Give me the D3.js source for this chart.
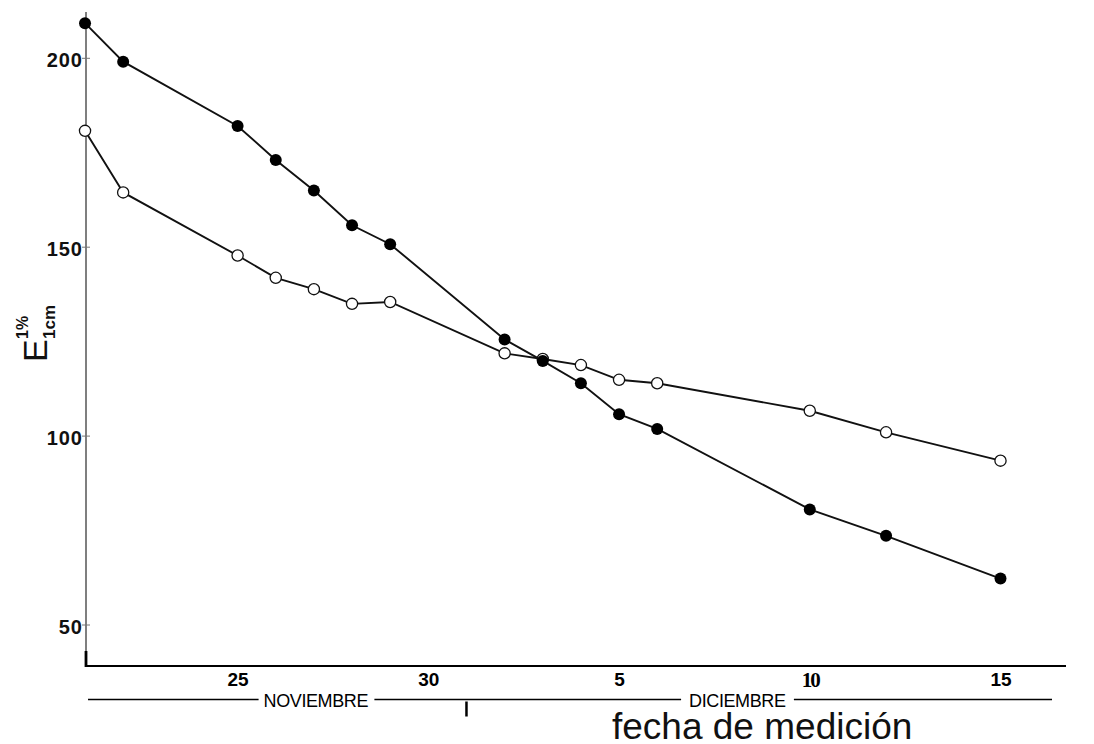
<!DOCTYPE html>
<html>
<head>
<meta charset="utf-8">
<script src="https://cdn.jsdelivr.net/npm/d3@7"></script>
<style>
  body { margin: 0; background: #fff; }
  svg { display: block; }
</style>
</head>
<body>
<svg id="chart" width="1094" height="744"></svg>
<script>
// days counted from 21 November
const filledDays = [0, 1, 4, 5, 6, 7, 8, 11, 12, 13, 14, 15, 19, 21, 24];
const filledValues = [209.3, 199.1, 182.1, 173.1, 165.0, 155.8, 150.8, 125.6, 119.9, 114.0, 105.8, 101.9, 80.6, 73.6, 62.3];
const openDays = [0, 1, 4, 5, 6, 7, 8, 11, 12, 13, 14, 15, 19, 21, 24];
const openValues = [180.8, 164.5, 147.8, 141.9, 138.9, 135.0, 135.5, 121.9, 120.4, 118.8, 114.9, 114.0, 106.7, 101.0, 93.5];
const yTicks = [50, 100, 150, 200];
const xTickDays = [4, 9, 14, 19, 24];
const xTickLabels = ["25", "30", "5", "10", "15"];
const monthNames = ["NOVIEMBRE", "DICIEMBRE"];
const monthCenterDays = [6.05, 17.1];
const monthBoundaryDay = 10;

const svg = d3.select("#chart");
const sans = "'Liberation Sans', Arial, sans-serif";

const x = d3.scaleLinear().domain([4, 24]).range([237.6, 1000.5]);
const y = d3.scaleLinear().domain([50, 200]).range([625, 58.3]);

const axisX = 86, axisY = 666;

// y axis line
svg.append("line")
  .attr("x1", axisX).attr("x2", axisX)
  .attr("y1", 12).attr("y2", 652)
  .attr("stroke", "#555").attr("stroke-width", 1.5);
svg.append("line")
  .attr("x1", axisX).attr("x2", axisX)
  .attr("y1", 651).attr("y2", 667)
  .attr("stroke", "#000").attr("stroke-width", 2.8);

// x axis line
svg.append("line")
  .attr("x1", x(0)).attr("x2", 1066)
  .attr("y1", axisY).attr("y2", axisY)
  .attr("stroke", "#000").attr("stroke-width", 2);

// y ticks
const gy = svg.append("g")
  .attr("transform", `translate(${axisX - 3},0)`)
  .call(d3.axisLeft(y).tickValues(yTicks).tickSize(0).tickPadding(0));
gy.select(".domain").remove();
gy.selectAll("text")
  .attr("dy", "0.42em")
  .style("font-family", sans)
  .style("font-size", "20px")
  .style("font-weight", "bold")
  .style("letter-spacing", "1px")
  .attr("fill", "#111");
svg.append("g").selectAll("line")
  .data(yTicks)
  .join("line")
  .attr("x1", axisX - 4).attr("x2", axisX + 4)
  .attr("y1", d => y(d)).attr("y2", d => y(d))
  .attr("stroke", "#777").attr("stroke-width", 1);

// x tick labels
const gx = svg.append("g")
  .attr("transform", `translate(0,${axisY})`)
  .call(d3.axisBottom(x).tickValues(xTickDays).tickFormat((d, i) => xTickLabels[i]).tickSize(0).tickPadding(6.5));
gx.select(".domain").remove();
gx.selectAll("text")
  .style("font-family", d => d === 19 ? "'Liberation Serif', serif" : sans)
  .style("font-size", d => d === 19 ? "21px" : "19px")
  .style("letter-spacing", d => d === 19 ? "-2px" : "0px")
  .style("font-weight", "bold")
  .attr("fill", "#000");

// month labels with rule
const monthY = 699.5;
const mLabels = svg.append("g").selectAll("text")
  .data(monthNames)
  .join("text")
  .attr("x", (d, i) => x(monthCenterDays[i]))
  .attr("y", monthY + 7)
  .attr("text-anchor", "middle")
  .style("font-family", sans)
  .style("font-size", "18px")
  .style("letter-spacing", "-0.4px")
  .text(d => d);

const boxes = mLabels.nodes().map(n => n.getBBox());
const ruleStart = x(0) + 3, ruleEnd = 1052;
const segs = [
  [ruleStart, boxes[0].x - 5],
  [boxes[0].x + boxes[0].width + 6, boxes[1].x - 8],
  [boxes[1].x + boxes[1].width + 8, ruleEnd]
];
svg.append("g").selectAll("line")
  .data(segs)
  .join("line")
  .attr("x1", d => d[0]).attr("x2", d => d[1])
  .attr("y1", monthY).attr("y2", monthY)
  .attr("stroke", "#000").attr("stroke-width", 1.6);
svg.append("line")
  .attr("x1", x(monthBoundaryDay)).attr("x2", x(monthBoundaryDay))
  .attr("y1", monthY + 2).attr("y2", monthY + 17)
  .attr("stroke", "#000").attr("stroke-width", 2.5);

// x title
svg.append("text")
  .attr("x", 612).attr("y", 739)
  .style("font-family", sans)
  .style("font-size", "37px")
  .attr("fill", "#111")
  .text("fecha de medición");

// y title: E with 1% superscript and 1cm subscript
const yt = svg.append("g").attr("transform", "translate(47,362) rotate(-90)");
yt.append("text")
  .attr("x", 0).attr("y", 0)
  .style("font-family", sans)
  .style("font-size", "34px")
  .attr("fill", "#111")
  .text("E");
yt.append("text")
  .attr("x", 23).attr("y", -19)
  .style("font-family", sans)
  .style("font-size", "16px")
  .style("font-weight", "bold")
  .attr("fill", "#111")
  .text("1%");
yt.append("text")
  .attr("x", 23).attr("y", 8)
  .style("font-family", sans)
  .style("font-size", "17px")
  .style("font-weight", "bold")
  .attr("fill", "#111")
  .text("1cm");

// series
const filled = filledDays.map((d, i) => ({ day: d, value: filledValues[i] }));
const open = openDays.map((d, i) => ({ day: d, value: openValues[i] }));
const line = d3.line().x(d => x(d.day)).y(d => y(d.value));

svg.append("path").datum(open)
  .attr("d", line).attr("fill", "none")
  .attr("stroke", "#111").attr("stroke-width", 1.9);
svg.append("path").datum(filled)
  .attr("d", line).attr("fill", "none")
  .attr("stroke", "#111").attr("stroke-width", 1.9);

svg.append("g").selectAll("circle")
  .data(open)
  .join("circle")
  .attr("cx", d => x(d.day)).attr("cy", d => y(d.value))
  .attr("r", 5.6)
  .attr("fill", "#fff").attr("stroke", "#111").attr("stroke-width", 1.3);
svg.append("g").selectAll("circle")
  .data(filled)
  .join("circle")
  .attr("cx", d => x(d.day)).attr("cy", d => y(d.value))
  .attr("r", 6)
  .attr("fill", "#000");
</script>
</body>
</html>
